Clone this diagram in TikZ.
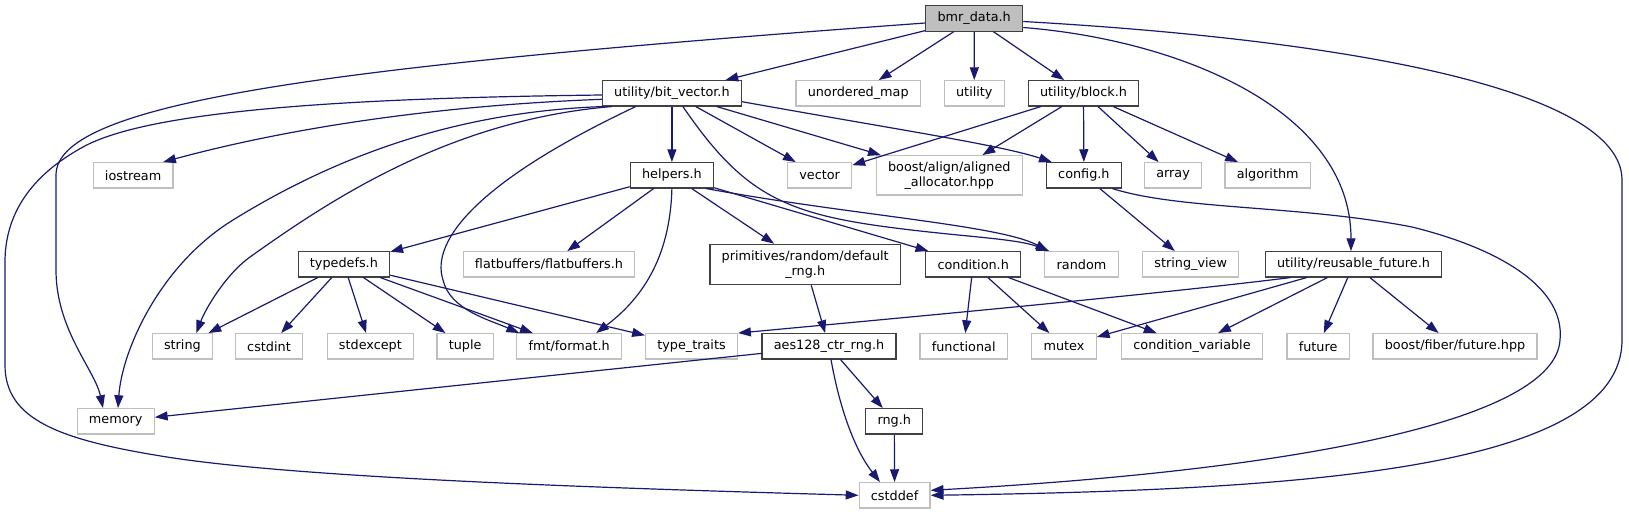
\documentclass[tikz,border=0pt]{standalone}
\usepackage{fontspec}
\setmainfont{DejaVu Sans}
\usepackage{xcolor}
\usepackage{tikz}
\usetikzlibrary{arrows.meta}

\definecolor{edgeblue}{HTML}{191970}

\begin{document}
\begin{tikzpicture}[x=1pt, y=-1pt,
    >={Triangle[length=12.8pt, width=9pt]},
    hdr/.style={draw=black!75, line width=1.2pt, fill=white, inner xsep=11.8pt, inner ysep=0pt,
        minimum height=25.3pt, align=center, font=\fontsize{12.8}{15}\selectfont},
    syshdr/.style={hdr, draw=black!25},
    roothdr/.style={hdr, fill=black!25},
    inc/.style={->, draw=edgeblue, line width=1.2pt}]
    \useasboundingbox (0,0) rectangle (1629,515);

    % Các tệp tiêu đề, xếp theo từng tầng
    \node[roothdr] (bmr) at (974.2,18.5) {bmr\_data.h};

    \node[hdr]    (bitvec)  at (671.9,93.3)  {utility/bit\_vector.h};
    \node[syshdr] (umap)    at (858.2,93.3)  {unordered\_map};
    \node[syshdr] (utility) at (974.3,93.3)  {utility};
    \node[hdr]    (block)   at (1083.5,93.3) {utility/block.h};

    \node[syshdr] (iostream)  at (133.1,175.3)  {iostream};
    \node[hdr]    (helpers)   at (671.9,175.3)  {helpers.h};
    \node[syshdr] (vector)    at (819.6,175.3)  {vector};
    \node[syshdr, minimum height=39.3pt] (alalloc) at (949.3,175.3) {boost/align/aligned\\\_allocator.hpp};
    \node[hdr]    (config)    at (1083.9,175.3) {config.h};
    \node[syshdr] (array)     at (1173.1,175.3) {array};
    \node[syshdr] (algorithm) at (1267.7,175.3) {algorithm};

    \node[hdr]    (typedefs)  at (343.9,264.3)  {typedefs.h};
    \node[syshdr] (flatbuf)   at (549,264.3)    {flatbuffers/flatbuffers.h};
    \node[hdr, minimum height=40.4pt] (defrng) at (805.2,264.5) {primitives/random/default\\\_rng.h};
    \node[hdr]    (condition) at (973.2,264.3)  {condition.h};
    \node[syshdr] (random)    at (1081.5,264.3) {random};
    \node[syshdr] (strview)   at (1190.7,264.3) {string\_view};
    \node[hdr]    (reusable)  at (1353.5,264.3) {utility/reusable\_future.h};

    \node[syshdr] (string)     at (182.4,346.3)  {string};
    \node[syshdr] (cstdint)    at (269,346.3)    {cstdint};
    \node[syshdr] (stdexcept)  at (370.4,346.3)  {stdexcept};
    \node[syshdr] (tuple)      at (465.1,346.3)  {tuple};
    \node[syshdr] (fmt)        at (569.2,346.3)  {fmt/format.h};
    \node[syshdr] (typetraits) at (691.5,346.3)  {type\_traits};
    \node[hdr]    (aes)        at (829,346.3)    {aes128\_ctr\_rng.h};
    \node[syshdr] (functional) at (963.7,346.3)  {functional};
    \node[syshdr] (mutex)      at (1064,346.3)   {mutex};
    \node[syshdr] (condvar)    at (1192,346.3)   {condition\_variable};
    \node[syshdr] (future)     at (1318.1,346.3) {future};
    \node[syshdr] (fiber)      at (1455,346.3)   {boost/fiber/future.hpp};

    \node[syshdr] (memory)  at (115.7,421.3) {memory};
    \node[hdr]    (rng)     at (894.3,421.3) {rng.h};
    \node[syshdr] (cstddef) at (894.6,495.3) {cstddef};

    % bmr_data.h
    \draw[inc] ([yshift=-4.5pt]bmr.west) .. controls (350,65) and (56,100) .. (56,175)
        -- (56,270) .. controls (56,330) and (95,370) .. ([xshift=-12.7pt]memory.north);
    \draw[inc] (bmr) -- (bitvec);
    \draw[inc] (bmr) -- (umap);
    \draw[inc] (bmr) -- (utility);
    \draw[inc] (bmr) -- (block);
    \draw[inc] ([yshift=-9pt]bmr.east) .. controls (1180,40) and (1351,110) .. ([xshift=-2.5pt]reusable.north);
    \draw[inc] ([yshift=-3pt]bmr.east) .. controls (1350,40) and (1622,90) .. (1622,180)
        -- (1622,340) .. controls (1622,470) and (1300,490) .. (cstddef.east);

    % utility/bit_vector.h
    \draw[inc] ([yshift=-1.7pt]bitvec.west) .. controls (350,98) and (150,110) .. (83,147)
        .. controls (30,176) and (5,215) .. (5,262) -- (5,365)
        .. controls (5,420) and (60,440) .. (167,457) .. controls (300,478) and (600,488) .. (cstddef.west);
    \draw[inc] ([yshift=-6pt]bitvec.west) .. controls (450,105) and (300,125) .. ([xshift=30pt]iostream.north);
    \draw[inc] ([xshift=1.3pt]bitvec.south west) .. controls (450,112) and (330,160) .. (233,220)
        .. controls (160,265) and (122,350) .. ([xshift=2.3pt]memory.north);
    \draw[inc] ([xshift=10pt]bitvec.south west) .. controls (450,120) and (330,200) .. (250,257)
        .. controls (225,275) and (205,310) .. ([xshift=14pt]string.north);
    \draw[inc] ([xshift=34pt]bitvec.south west) .. controls (480,180) and (430,240) .. (443,280)
        .. controls (450,310) and (490,320) .. ([xshift=-50pt]fmt.north);
    \draw[inc] (bitvec) -- (helpers);
    \draw[inc] (bitvec) -- (vector);
    \draw[inc] (bitvec) -- (alalloc);
    \draw[inc] ([xshift=11pt]bitvec.south) .. controls (740,190) and (780,212) .. (880,226)
        .. controls (960,237) and (1015,238) .. ([xshift=5pt]random.north west);
    \draw[inc] ([yshift=-8.4pt]bitvec.east) .. controls (900,130) and (1000,145) .. ([xshift=6pt]config.north west);

    % utility/block.h
    \draw[inc] (block) -- (vector);
    \draw[inc] (block) -- (alalloc);
    \draw[inc] (block) -- (config);
    \draw[inc] (block) -- (array);
    \draw[inc] (block) -- (algorithm);

    % helpers.h
    \draw[inc] (helpers) -- (typedefs);
    \draw[inc] (helpers) -- (flatbuf);
    \draw[inc] (helpers.south) .. controls (670,260) and (640,300) .. ([xshift=27pt]fmt.north);
    \draw[inc] (helpers) -- (defrng);
    \draw[inc] (helpers) -- (condition);
    \draw[inc] ([xshift=-8pt]helpers.south east) .. controls (850,215) and (1000,225) .. ([xshift=4pt]random.north west);

    % config.h
    \draw[inc] (config) -- (strview);
    \draw[inc] ([xshift=-9.6pt]config.south east) .. controls (1180,210) and (1300,205) .. (1412,227)
        .. controls (1505,250) and (1565,290) .. (1560,340)
        .. controls (1555,420) and (1300,470) .. ([yshift=5pt]cstddef.east);

    % typedefs.h
    \draw[inc] (typedefs) -- (string);
    \draw[inc] (typedefs) -- (cstdint);
    \draw[inc] (typedefs) -- (stdexcept);
    \draw[inc] (typedefs) -- (tuple);
    \draw[inc] (typedefs) -- (fmt);
    \draw[inc] (typedefs) -- (typetraits);

    % primitives/random/default_rng.h, aes128_ctr_rng.h, rng.h
    \draw[inc] (defrng) -- (aes);
    \draw[inc] (aes) -- (memory);
    \draw[inc] (aes) -- (rng);
    \draw[inc] ([xshift=2pt]aes.south) .. controls (840,410) and (855,450) .. ([xshift=-14.6pt]cstddef.north);
    \draw[inc] (rng) -- (cstddef);

    % condition.h
    \draw[inc] (condition) -- (functional);
    \draw[inc] (condition) -- (mutex);
    \draw[inc] (condition) -- (condvar);

    % utility/reusable_future.h
    \draw[inc] ([xshift=26pt]reusable.south west) .. controls (1150,295) and (900,318) .. (typetraits.north east);
    \draw[inc] (reusable) -- (mutex);
    \draw[inc] (reusable) -- (condvar);
    \draw[inc] (reusable) -- (future);
    \draw[inc] (reusable) -- (fiber);
\end{tikzpicture}
\end{document}
